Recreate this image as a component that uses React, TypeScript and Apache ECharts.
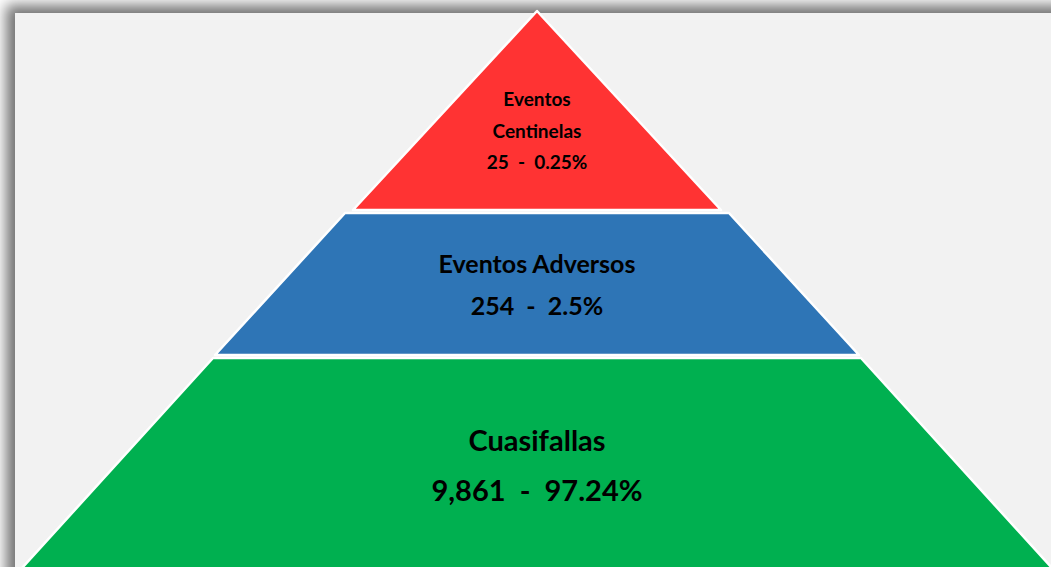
import React, { useEffect, useRef } from "react";
import * as echarts from "echarts";

// ---- data (top tier first) ----
const tierNames: string[] = ["Eventos\nCentinelas", "Eventos Adversos", "Cuasifallas"];
const counts: number[] = [25, 254, 9861];
const percents: number[] = [0.25, 2.5, 97.24];

// ---- layout / style (pixels) ----
const CENTER_X = 537;
const tierGeom = [
  { top: 11, bottom: 210, topHalf: 0, bottomHalf: 184 },
  { top: 213, bottom: 355, topHalf: 192, bottomHalf: 322 },
  { top: 358, bottom: 590, topHalf: 324, bottomHalf: 535 },
];
const tierColors = ["#ff3333", "#2e75b6", "#00b050"];
const tierFont = [19, 25, 29];
const tierLineHeight = [31.5, 42, 50];
const tierTextCenter = [130, 284, 464];

export default function App() {
  const ref = useRef<HTMLDivElement>(null);
  useEffect(() => {
    if (!ref.current) return;
    const chart = echarts.init(ref.current, null, { renderer: "svg" });
    const fmt = (n: number) => n.toLocaleString("en-US");
    chart.setOption({
      animation: false,
      backgroundColor: "#ffffff",
      graphic: [
        {
          type: "rect",
          z: -10,
          shape: { x: 15, y: 13, width: 1100, height: 620 },
          style: {
            fill: "#f2f2f2",
            shadowBlur: 14,
            shadowColor: "rgba(0,0,0,0.55)",
            shadowOffsetX: -9,
            shadowOffsetY: -8,
          },
        },
      ],
      series: [
        {
          type: "custom",
          coordinateSystem: "none",
          z: 5,
          data: counts.map((c, i) => [i, c, percents[i]]),
          renderItem: (params: any, api: any) => {
            const i = api.value(0);
            const g = tierGeom[i];
            const pts =
              g.topHalf === 0
                ? [
                    [CENTER_X, g.top],
                    [CENTER_X + g.bottomHalf, g.bottom],
                    [CENTER_X - g.bottomHalf, g.bottom],
                  ]
                : [
                    [CENTER_X - g.topHalf, g.top],
                    [CENTER_X + g.topHalf, g.top],
                    [CENTER_X + g.bottomHalf, g.bottom],
                    [CENTER_X - g.bottomHalf, g.bottom],
                  ];
            const label = `${tierNames[i]}\n${fmt(api.value(1))}  -  ${api.value(2)}%`;
            return {
              type: "group",
              children: [
                {
                  type: "polygon",
                  shape: { points: pts },
                  style: { fill: tierColors[i], stroke: "#ffffff", lineWidth: 2.5, lineJoin: "round" },
                },
                {
                  type: "text",
                  style: {
                    text: label,
                    x: CENTER_X,
                    y: tierTextCenter[i],
                    align: "center",
                    verticalAlign: "middle",
                    fontFamily: "Lato",
                    fontWeight: "bold",
                    fontSize: tierFont[i],
                    lineHeight: tierLineHeight[i],
                    fill: "#000000",
                  },
                },
              ],
            };
          },
        },
      ],
    });
    return () => chart.dispose();
  }, []);
  return (
    <div
      ref={ref}
      style={{ position: "fixed", left: 0, top: 0, width: 1051, height: 567 }}
    />
  );
}
